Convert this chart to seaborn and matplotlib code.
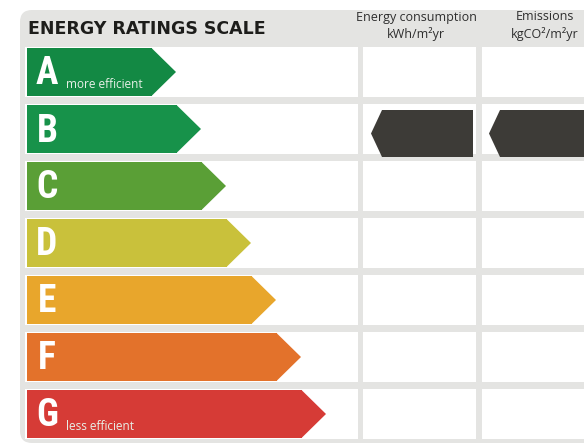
import matplotlib
matplotlib.use("Agg")
import matplotlib.pyplot as plt
import seaborn as sns
from matplotlib.patches import Polygon, Rectangle, FancyBboxPatch
from matplotlib import font_manager

# rating bands, top (best) to bottom (worst)
ratings = ["A", "B", "C", "D", "E", "F", "G"]
band_length = [125, 150, 175, 200, 225, 250, 275]
band_colors = ["#138944", "#17924a", "#5a9f36", "#c9c13b", "#e8a62c", "#e3722b", "#d63b36"]
band_notes = {"A": "more efficient", "G": "less efficient"}
current_rating = "B"  # marked in both columns

sns.set_theme(style="white")

fig = plt.figure(figsize=(5.84, 4.45), dpi=100)
ax = fig.add_axes([0, 0, 1, 1])

# pixel helpers: x axis is pixels from the band start, y axis is row units
X0, Y0, ROW = 27, 72, 57
def px(x):
    return x - X0
def py(y):
    return (y - Y0) / ROW

sns.barplot(x=band_length, y=ratings, hue=ratings, palette=band_colors, saturation=1,
            orient="h", width=48 / ROW, linewidth=0, legend=False, ax=ax)
bars = list(ax.patches)

# chevron tips on each band
for bar, col in zip(bars, band_colors):
    bar.set_zorder(3)
    x1 = bar.get_x() + bar.get_width()
    y0, h = bar.get_y(), bar.get_height()
    tip = h / 2 * ROW
    ax.add_patch(Polygon([(x1 - 0.5, y0), (x1 + tip, y0 + h / 2), (x1 - 0.5, y0 + h)],
                         closed=True, color=col, lw=0, zorder=3))

# grey panel behind everything
ax.add_patch(FancyBboxPatch((px(20) + 12, py(10) + 12 / ROW), 600 - 12, (433 - 24) / ROW,
                            boxstyle="round,pad=0.2", mutation_aspect=1 / ROW,
                            mutation_scale=60, fc="#e4e4e2", ec="none", zorder=0))

# white cells per row
cells = [(25, 358), (363, 476), (482, 600)]
for i in range(len(ratings)):
    for a, b in cells:
        ax.add_patch(Rectangle((px(a), i - 25 / ROW), b - a, 50 / ROW,
                               fc="white", ec="none", zorder=1))

# narrow face for the big letters, if there is one
names = {f.name for f in font_manager.fontManager.ttflist}
letter_font = dict(family="DejaVu Sans", fontstretch="condensed")
for cand in ["Liberation Sans Narrow", "Roboto Condensed", "Open Sans Condensed"]:
    if cand in names:
        letter_font = dict(family=cand)
        break

# letters and notes
for i, r in enumerate(ratings):
    ax.text(px(47), i + 2 / ROW, r, color="white", fontsize=27, fontweight="bold",
            ha="center", va="center", zorder=4, **letter_font)
    if r in band_notes:
        ax.text(px(66), i + 13 / ROW, band_notes[r], color="#e8f0e8", fontsize=8.5,
                family="Open Sans", ha="left", va="center", zorder=4)

# current rating arrows
k = ratings.index(current_rating)
yc, hh = k + 4.5 / ROW, 23.5 / ROW
for tip, right in [(371, 473), (489, 600)]:
    ax.add_patch(Polygon([(px(tip), yc), (px(tip + 11), yc - hh), (px(right), yc - hh),
                          (px(right), yc + hh), (px(tip + 11), yc + hh)],
                         closed=True, fc="#3d3b37", ec="none", zorder=4))

# header
ax.text(px(28), py(29), "ENERGY RATINGS SCALE", fontsize=12.5, fontweight="heavy",
        color="#1d1d1b", ha="left", va="center", zorder=4)
ax.text(px(416), py(17), "Energy consumption", fontsize=9, family="Open Sans",
        color="#2e2e2e", ha="center", va="center", zorder=4)
ax.text(px(416), py(34), "kWh/m²yr", fontsize=9, family="Open Sans",
        color="#2e2e2e", ha="center", va="center", zorder=4)
ax.text(px(545), py(17), "Emissions", fontsize=9, family="Open Sans",
        color="#2e2e2e", ha="center", va="center", zorder=4)
ax.text(px(545), py(34), "kgCO²/m²yr", fontsize=9, family="Open Sans",
        color="#2e2e2e", ha="center", va="center", zorder=4)

ax.set_xlim(px(0), px(584))
ax.set_ylim(py(445), py(0))
ax.axis("off")

fig.savefig("out.png", dpi=100)
